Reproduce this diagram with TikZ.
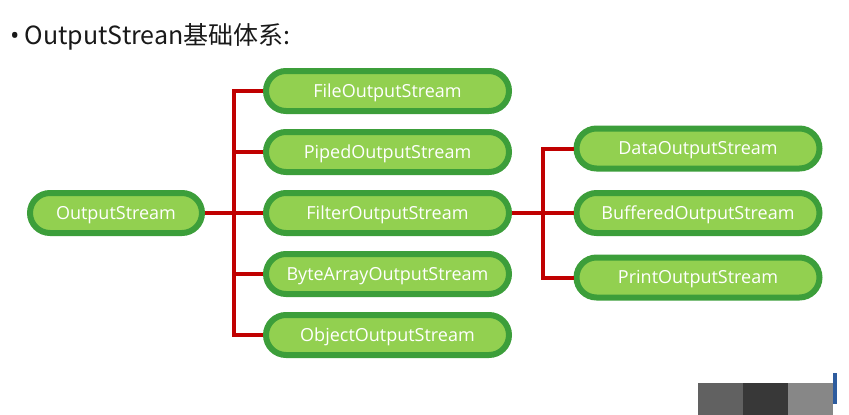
\documentclass[tikz,border=0pt]{standalone}
\usepackage{fontspec}
\usepackage{tikz}
\usetikzlibrary{trees}
\usepackage{xcolor}
\setmainfont{Open Sans}
\newfontfamily\cjk{Noto Sans CJK SC}
\definecolor{pillfill}{HTML}{92D050}
\definecolor{pillrim}{HTML}{3C9E3A}
\definecolor{linkred}{HTML}{C00000}
\definecolor{cornerblue}{HTML}{2E5C9E}

\begin{document}
\begin{tikzpicture}[%
	x=1pt,y=1pt,
	pill/.style={draw=pillrim, fill=pillfill, line width=6pt, rounded corners=20pt,
		minimum width=243pt, minimum height=40pt, inner sep=0pt,
		text height=12pt, text depth=0pt,
		text=white, font=\fontsize{18}{20}\selectfont},
	edge from parent/.style={draw=linkred, line width=4pt},
	level 1/.style={grow via three points={one child at (271.5pt,0pt) and
 	two children at (271.5pt,30.5pt) and (271.5pt,-30.5pt)},
		edge from parent path={(\tikzparentnode.east) -- ++(29pt,0pt) |- (\tikzchildnode.west)}},
	level 2/.style={grow via three points={one child at (310.5pt,0pt) and
 	two children at (310.5pt,32.25pt) and (310.5pt,-32.25pt)},
		edge from parent path={(\tikzparentnode.east) -- ++(31pt,0pt) |- (\tikzchildnode.west)}}]
	\useasboundingbox (0,0) rectangle (849,-415);
	\node[anchor=base west, inner sep=0pt, text=black!90, font=\cjk\fontsize{25}{28}\selectfont]
		(title) at (10,-44) {{\rmfamily •}\hspace{5pt}OutputStrean基础体系:};
	\node[pill, minimum width=172pt] (out) at (116,-213) {OutputStream}
		child { node[pill] (file) {FileOutputStream}}
		child { node[pill] (piped) {PipedOutputStream}}
		child { node[pill] (filter) {FilterOutputStream}
			child { node[pill] (data) {DataOutputStream}}
			child { node[pill] (buffered) {BufferedOutputStream}}
			child { node[pill] (print) {PrintOutputStream}}}
		child { node[pill] (bytes) {ByteArrayOutputStream}}
		child { node[pill] (object) {ObjectOutputStream}};
	% corner of the slide
	\fill[black!62] (698,-383) rectangle (743,-415);
	\fill[black!78] (743,-383) rectangle (788,-415);
	\fill[black!47] (788,-383) rectangle (833,-415);
	\fill[cornerblue] (833,-373) rectangle (837,-404);
\end{tikzpicture}
\end{document}
